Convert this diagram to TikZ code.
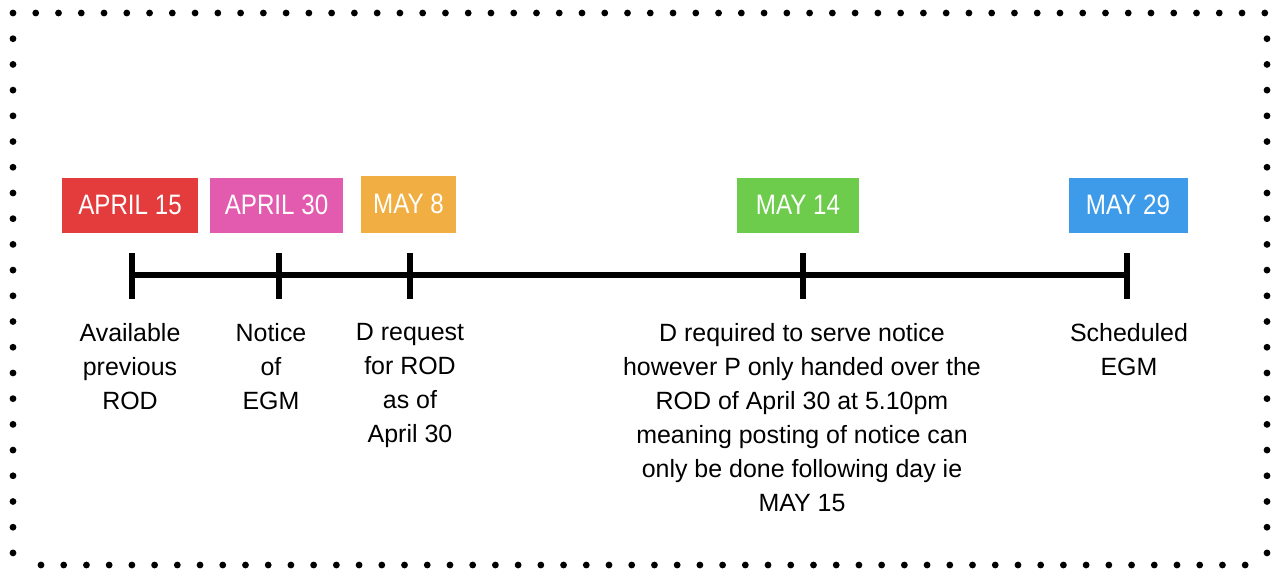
\documentclass[tikz,border=0pt]{standalone}
\usepackage{fontspec}
\setmainfont{Liberation Sans}
\newfontfamily\datefont[FakeStretch=0.86]{Liberation Sans}
\usetikzlibrary{positioning}

\definecolor{dred}{HTML}{E43B3D}
\definecolor{dpink}{HTML}{E35BAF}
\definecolor{dorange}{HTML}{F1AE43}
\definecolor{dgreen}{HTML}{6DCC4B}
\definecolor{dblue}{HTML}{3E9BEA}

\begin{document}
\begin{tikzpicture}[x=0.02cm, y=-0.02cm,
  datebox/.style={rectangle, minimum height=1.1cm, inner sep=0pt,
                  text=white, font=\datefont\fontsize{16}{16}\selectfont},
  note/.style={align=center, anchor=north, inner sep=0pt,
               font=\fontsize{14.2}{19.4}\selectfont},
  axis/.style={line width=0.13cm, black},
  tick/.style={line width=0.12cm, black}
]
\useasboundingbox (0,0) rectangle (1271,569);

% dotted frame
\foreach \i in {0,...,55} \fill (13+\i*22.76,13) circle (0.068cm);
\foreach \i in {0,...,53} \fill (41+\i*22.72,565) circle (0.068cm);
\foreach \j in {1,...,21} {
  \fill (13,13+\j*25.71) circle (0.068cm);
  \fill (1267,13+\j*25.71) circle (0.068cm);
}

% date boxes
\node[datebox, fill=dred,    minimum width=2.72cm] (d1) at (130,205)   {APRIL 15};
\node[datebox, fill=dpink,   minimum width=2.66cm] (d2) at (276.5,205) {APRIL 30};
\node[datebox, fill=dorange, minimum width=1.90cm, minimum height=1.14cm] (d3) at (408.5,204) {MAY 8};
\node[datebox, fill=dgreen,  minimum width=2.46cm] (d4) at (798,205)   {MAY 14};
\node[datebox, fill=dblue,   minimum width=2.38cm] (d5) at (1128,205)  {MAY 29};

% timeline
\coordinate (t1) at (132,275);
\coordinate (t2) at (279,275);
\coordinate (t3) at (410,275);
\coordinate (t4) at (803,275);
\coordinate (t5) at (1127,275);

\draw[axis] (t1) -- (t5);
\foreach \t in {t1,t2,t3,t4,t5}
  \draw[tick] (\t) ++(0,-22) -- ++(0,46);

% notes
\node[note] (n1) at (130,323)  {Available\\previous\\ROD};
\node[note] (n2) at (271,323)  {Notice\\of\\EGM};
\node[note] (n3) at (410,323)  {D request\\for ROD\\as of\\April 30};
\node[note] (n4) at (802,323)  {D required to serve notice\\however P only handed over the\\ROD of April 30 at 5.10pm\\meaning posting of notice can\\only be done following day ie\\MAY 15};
\node[note] (n5) at (1129,323) {Scheduled\\EGM};
\end{tikzpicture}
\end{document}
